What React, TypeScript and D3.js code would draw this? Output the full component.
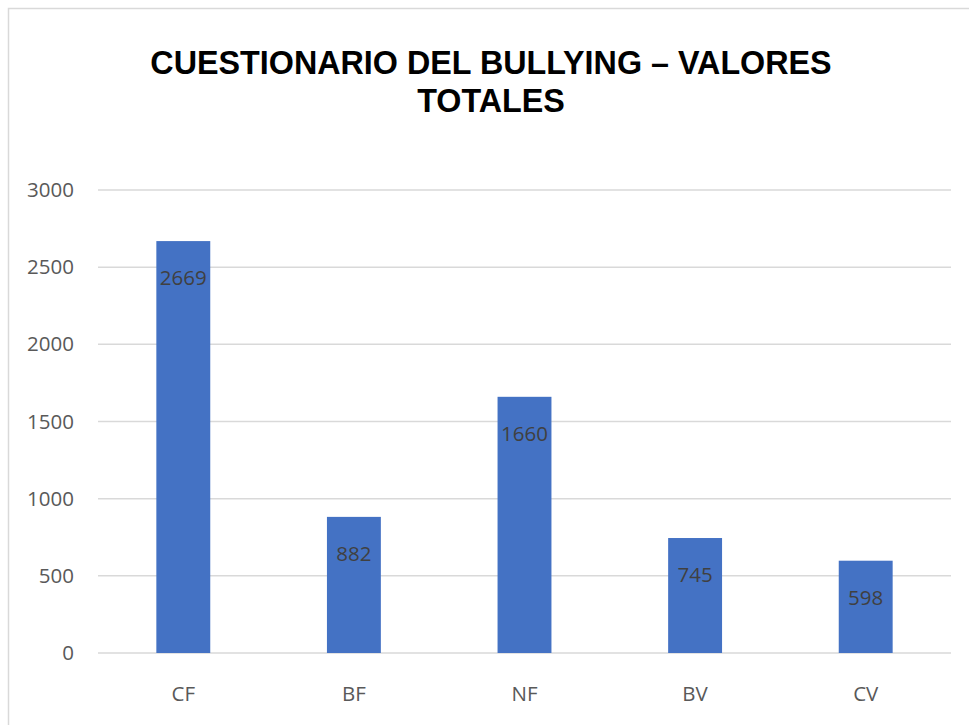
import * as d3 from 'd3';

const categories = ['CF', 'BF', 'NF', 'BV', 'CV'];
const values = [2669, 882, 1660, 745, 598];
const yTickValues = [0, 500, 1000, 1500, 2000, 2500, 3000];
const titleLines = ['CUESTIONARIO DEL BULLYING – VALORES', 'TOTALES'];

export default function App() {
  const width = 969;
  const height = 725;
  const left = 98;
  const right = 951;
  const top = 190;
  const bottom = 653;

  const x = d3.scaleBand().domain(categories).range([left, right]).paddingInner(0.684).paddingOuter(0.342);
  const y = d3.scaleLinear().domain([0, 3000]).range([bottom, top]);
  const font = "'Open Sans', sans-serif";

  return (
    <svg
      width={width}
      height={height}
      style={{ position: 'absolute', left: 0, top: 0, background: '#fff' }}
    >
      {/* chart frame */}
      <rect x={8.5} y={8.5} width={980} height={740} fill="#fff" stroke="#d9d9d9" strokeWidth={1.5} />

      {/* title */}
      {titleLines.map((line, i) => (
        <text
          key={i}
          x={491}
          y={74 + i * 38}
          textAnchor="middle"
          fontFamily="'Liberation Sans', Arial, sans-serif"
          fontWeight="bold"
          fontSize={32.3}
          fill="#000"
        >
          {line}
        </text>
      ))}

      {/* grid + y labels */}
      {yTickValues.map((t) => (
        <g key={t}>
          <line x1={left} x2={right} y1={y(t)} y2={y(t)} stroke="#d9d9d9" strokeWidth={1.5} />
          <text
            x={74}
            y={y(t) + 7}
            textAnchor="end"
            fontFamily={font}
            fontSize={20.5}
            fill="#595959"
          >
            {t}
          </text>
        </g>
      ))}

      {/* bars */}
      {categories.map((c, i) => (
        <g key={c}>
          <rect
            x={x(c)}
            y={y(values[i])}
            width={x.bandwidth()}
            height={bottom - y(values[i])}
            fill="#4472C4"
          />
          <text
            x={(x(c) ?? 0) + x.bandwidth() / 2}
            y={y(values[i]) + 44}
            textAnchor="middle"
            fontFamily={font}
            fontSize={20.5}
            fill="#404040"
          >
            {values[i]}
          </text>
          <text
            x={(x(c) ?? 0) + x.bandwidth() / 2}
            y={701}
            textAnchor="middle"
            fontFamily={font}
            fontSize={20.5}
            fill="#595959"
          >
            {c}
          </text>
        </g>
      ))}
    </svg>
  );
}
